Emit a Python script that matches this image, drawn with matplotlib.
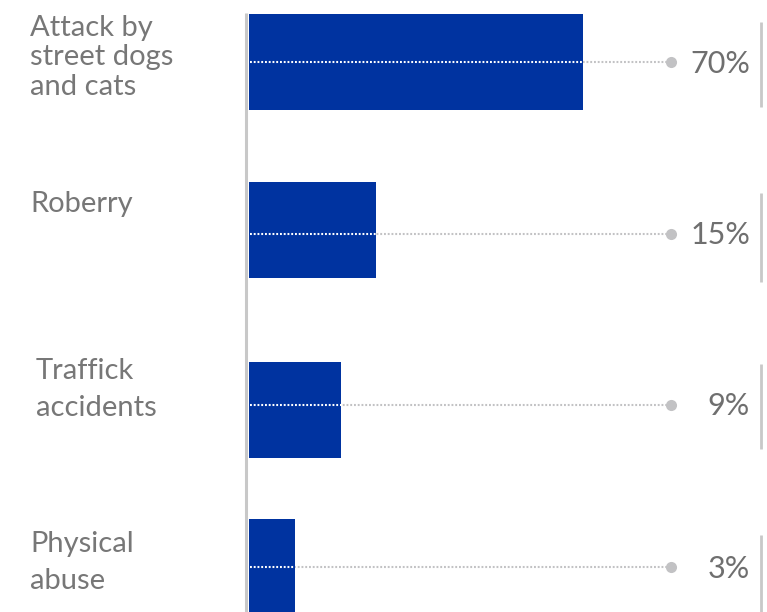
import matplotlib
matplotlib.use("Agg")
import matplotlib.pyplot as plt
import numpy as np

# Data
categories = ["Attack by\nstreet dogs\nand cats", "Roberry", "Traffick\naccidents", "Physical\nabuse"]
shares = [70, 15, 9, 3]
share_labels = ["70%", "15%", "9%", "3%"]

# Layout (figure pixels, y measured from top)
W, H = 767, 612
bar_left_px = 249
bar_tops = [14, 182, 362, 519]
bar_h = 96
guide_y = [62, 234, 405, 567]
dot_x = 671
label_x = [30, 30, 36, 30]
label_baselines = [[36, 65, 95], [212], [379, 416], [552, 589]]
pct_baselines = [73, 244, 415, 578]
seg_spans = [(22, 107), (193, 282), (364, 449), (535, 620)]

BLUE = "#0033a0"
TXT = "#777777"
PCT = "#6f6f6f"
GUIDE = "#c2c2c4"
AXIS = "#c8c8c8"
FONT = "Lato"

fig = plt.figure(figsize=(W / 100, H / 100), dpi=100)
fig.patch.set_facecolor("white")

# Overlay axes in pixel coordinates for guides and labels
ov = fig.add_axes([0, 0, 1, 1], zorder=0)
ov.set_xlim(0, W)
ov.set_ylim(H, 0)
ov.axis("off")

# Bar axes with a compressive power scale
p = 0.63
bx = fig.add_axes([bar_left_px / W, 0, 1 - bar_left_px / W, 1], zorder=1)
bx.patch.set_alpha(0)
bx.set_xscale("function", functions=(lambda v: np.sign(v) * np.abs(v) ** p,
                                      lambda u: np.sign(u) * np.abs(u) ** (1 / p)))
px_per_70 = 583 - bar_left_px
u_max = (70 ** p) * (W - bar_left_px) / px_per_70
bx.set_xlim(0, u_max ** (1 / p))
bx.set_ylim(H, 0)
bx.axis("off")

centers = [t + bar_h / 2 for t in bar_tops]
bx.barh(centers, shares, height=bar_h, left=0, color=BLUE, edgecolor="none", zorder=2)

dots = (0, (0.9, 0.9))
for i, v in enumerate(shares):
    y = guide_y[i]
    # gray guide to the end dot (hidden under the bar)
    ov.plot([bar_left_px, dot_x], [y, y], color=GUIDE, lw=1.5, linestyle=dots,
            dash_capstyle="butt")
    ov.plot([dot_x], [y], "o", color=GUIDE, ms=8, mec="none")
    # white dotted guide across the bar
    bx.plot([0.01, v], [y, y], color="white", lw=1.5, linestyle=dots, zorder=3,
            dash_capstyle="butt")
    # value label and right tick segment
    ov.text(750, pct_baselines[i], share_labels[i], ha="right", va="baseline",
            fontsize=22, color=PCT, family=FONT)
    ov.plot([761, 761], seg_spans[i], color=AXIS, lw=2.0, solid_capstyle="butt")
    # category label, one line at a time
    for line, b in zip(categories[i].split("\n"), label_baselines[i]):
        ov.text(label_x[i], b, line, ha="left", va="baseline", fontsize=21,
                color=TXT, family=FONT)

# left baseline axis
ov.plot([246, 246], [13, H], color=AXIS, lw=2.2, solid_capstyle="butt")

fig.savefig("out.png", dpi=100, facecolor="white")
